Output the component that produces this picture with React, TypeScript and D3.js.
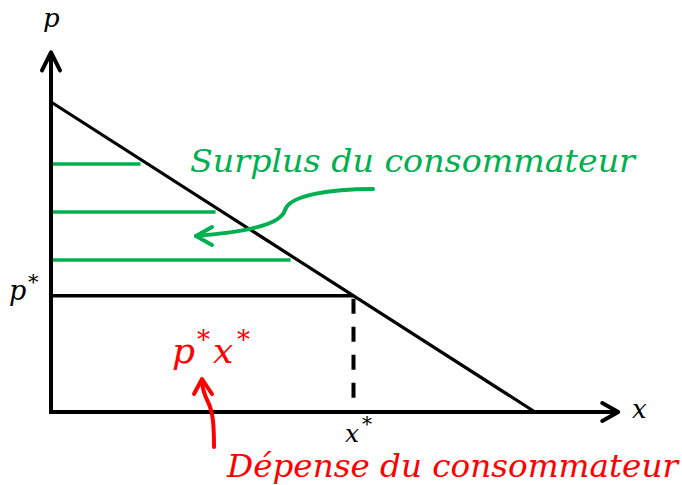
import React from "react";
import * as d3 from "d3";

// Economic values (demand p = 10 - x)
const demandPoints: [number, number][] = [
  [0, 10],
  [10, 0],
];
const pStar = 3.75;
const xStar = 6.25;
const surplusLevels = [8.0, 6.45, 4.9];
const surplusEnds = [1.85, 3.4, 4.95];
const xAxisMax = 11.72;
const yAxisMax = 11.6;

const W = 682;
const H = 485;

const xScale = d3.scaleLinear().domain([0, 10]).range([51, 535]);
const yScale = d3.scaleLinear().domain([0, 10]).range([412, 102]);

const FONT = "'DejaVu Serif', serif";
const GREEN = "#00b050";
const RED = "#ff0000";

export default function App() {
  const line = d3
    .line<[number, number]>()
    .x((d) => xScale(d[0]))
    .y((d) => yScale(d[1]));

  const x0 = xScale(0);
  const y0 = yScale(0);
  const xEnd = xScale(xAxisMax);
  const yEnd = yScale(yAxisMax);

  return (
    <svg
      width={W}
      height={H}
      style={{ position: "absolute", left: 0, top: 0, background: "#fff" }}
    >
      {/* surplus horizontal lines */}
      {surplusLevels.map((p, i) => (
        <line
          key={i}
          x1={x0 + 1}
          x2={xScale(surplusEnds[i])}
          y1={yScale(p)}
          y2={yScale(p)}
          stroke={GREEN}
          strokeWidth={3.5}
        />
      ))}
      {/* p* horizontal line */}
      <line
        x1={x0}
        x2={xScale(xStar)}
        y1={yScale(pStar)}
        y2={yScale(pStar)}
        stroke="#000"
        strokeWidth={3.5}
      />
      {/* x* dashed line */}
      <line
        x1={xScale(xStar)}
        x2={xScale(xStar)}
        y1={yScale(pStar) + 3}
        y2={y0}
        stroke="#000"
        strokeWidth={4}
        strokeDasharray="15,13"
      />
      {/* demand */}
      <path d={line(demandPoints) || ""} stroke="#000" strokeWidth={3.2} fill="none" />
      {/* axes */}
      <line x1={x0} x2={x0} y1={y0 + 2} y2={yEnd} stroke="#000" strokeWidth={4} />
      <line x1={x0 - 2} x2={xEnd} y1={y0} y2={y0} stroke="#000" strokeWidth={4} />
      <path
        d={`M${x0 - 9},${yEnd + 18} L${x0},${yEnd} L${x0 + 9},${yEnd + 18}`}
        stroke="#000"
        strokeWidth={4}
        fill="none"
        strokeLinecap="round"
        strokeLinejoin="round"
      />
      <path
        d={`M${xEnd - 16},${y0 - 9} L${xEnd},${y0} L${xEnd - 16},${y0 + 9}`}
        stroke="#000"
        strokeWidth={4}
        fill="none"
        strokeLinecap="round"
        strokeLinejoin="round"
      />
      {/* axis labels */}
      <text x={x0 - 8} y={27} fontFamily={FONT} fontStyle="italic" fontSize={26}>
        p
      </text>
      <text x={632} y={418} fontFamily={FONT} fontStyle="italic" fontSize={26}>
        x
      </text>
      <text x={9} y={300} fontFamily={FONT} fontStyle="italic" fontSize={27}>
        p
        <tspan x={28} fontSize={21} dy={-11} fontStyle="normal">
          *
        </tspan>
      </text>
      <text x={345} y={442} fontFamily={FONT} fontStyle="italic" fontSize={25}>
        x
        <tspan x={362} fontSize={20} dy={-11} fontStyle="normal">
          *
        </tspan>
      </text>
      {/* surplus label */}
      <text
        x={190}
        y={172}
        fontFamily={FONT}
        fontStyle="italic"
        fontSize={32}
        fill={GREEN}
        textLength={445}
        lengthAdjust="spacingAndGlyphs"
      >
        Surplus du consommateur
      </text>
      <path
        d="M373,189 C330,189 290,195 285,210 C280,228 230,233 196,236"
        stroke={GREEN}
        strokeWidth={4}
        fill="none"
        strokeLinecap="round"
      />
      <path
        d="M212,227 L196,236 L212,245"
        stroke={GREEN}
        strokeWidth={4}
        fill="none"
        strokeLinecap="round"
        strokeLinejoin="round"
      />
      {/* expenditure label */}
      <text
        x={172}
        y={363}
        fontFamily={FONT}
        fontStyle="italic"
        fontSize={36}
        fill={RED}
      >
        p
        <tspan x={197} fontSize={26} dy={-14} fontStyle="normal">
          *
        </tspan>
        <tspan x={213} dy={14}>
          x
        </tspan>
        <tspan x={237} fontSize={26} dy={-14} fontStyle="normal">
          *
        </tspan>
      </text>
      <path
        d="M214,447 C214,425 213,412 208,402 C204,394 202,388 202,380"
        stroke={RED}
        strokeWidth={4}
        fill="none"
        strokeLinecap="round"
      />
      <path
        d="M194,394 L202,379 L212,394"
        stroke={RED}
        strokeWidth={4}
        fill="none"
        strokeLinecap="round"
        strokeLinejoin="round"
      />
      <text
        x={227}
        y={477}
        fontFamily={FONT}
        fontStyle="italic"
        fontSize={31}
        fill={RED}
        textLength={451}
        lengthAdjust="spacingAndGlyphs"
      >
        Dépense du consommateur
      </text>
    </svg>
  );
}
